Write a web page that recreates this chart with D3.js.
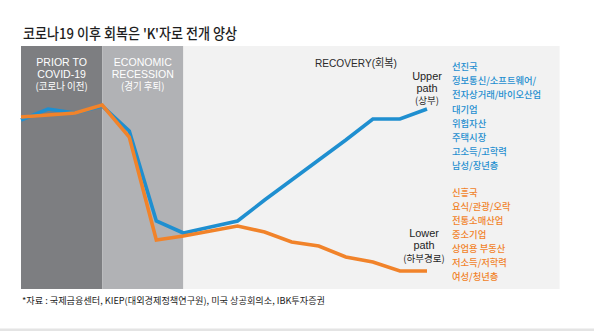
<!DOCTYPE html>
<html><head><meta charset="utf-8">
<script src="https://cdn.jsdelivr.net/npm/d3@7"></script>
<style>
html,body{margin:0;padding:0;background:#fff;}
svg{display:block;}
</style></head>
<body>
<svg id="chart" width="594" height="331"></svg>
<script>
// ---- data ----
const title = "코로나19 이후 회복은 'K'자로 전개 양상";
const periods = d3.range(16); // time steps
const upperPath = [84.5, 90, 88, 91.5, 79, 34, 28, 31, 34, 44.5, 54.5, 64.5, 74.5, 85, 85, 90];
const lowerPath = [86, 87, 88, 92, 76, 24.5, 26.5, 29, 31.5, 28.5, 23.5, 21.5, 16, 13.5, 9, 9];
const phaseNames = [
  ["PRIOR TO", "COVID-19", "(코로나 이전)"],
  ["ECONOMIC", "RECESSION", "(경기 후퇴)"],
  ["RECOVERY(회복)"]
];
const phaseBounds = [0, 3, 6, 19.9];
const upperLabel = ["Upper", "path", "(상부)"];
const lowerLabel = ["Lower", "path", "(하부경로)"];
const upperItems = ["선진국", "정보통신/소프트웨어/", "전자상거래/바이오산업", "대기업", "위험자산", "주택시장", "고소득/고학력", "남성/장년층"];
const lowerItems = ["신흥국", "요식/관광/오락", "전통소매산업", "중소기업", "상업용 부동산", "저소득/저학력", "여성/청년층"];
const source = "*자료 : 국제금융센터, KIEP(대외경제정책연구원), 미국 상공회의소, IBK투자증권";

// ---- layout ----
const svg = d3.select("#chart");
const KR = "'Noto Sans CJK KR', 'Liberation Sans', sans-serif";
const LAT = "'Liberation Sans', 'Noto Sans CJK KR', sans-serif";
const BLUE = "#1f8fd0", ORANGE = "#f1832a";
const plotTop = 46, plotBottom = 289;

const x = d3.scaleLinear().domain([0, 15]).range([21, 427]);
const y = d3.scaleLinear().domain([0, 100]).range([289, 89]);

function txt(xp, yp, s, o) {
  o = o || {};
  const t = svg.append("text")
    .attr("transform", `translate(${xp},${yp}) scale(${o.sx || 1},1)`)
    .attr("text-anchor", o.anchor || "start")
    .attr("dominant-baseline", "central")
    .attr("font-family", o.font || KR)
    .attr("font-size", o.size || 11)
    .attr("font-weight", o.weight || 400)
    .attr("fill", o.color || "#222")
    .text(s);
  if (o.len) t.attr("textLength", o.len).attr("lengthAdjust", "spacingAndGlyphs");
  return t;
}

// title
txt(23, 32.5, title, {size: 14.5, weight: 500, color: "#1e1e1e", len: 214});

// phase panels
const panelColors = ["#7d7e81", "#b1b2b5", "#f2f2f2"];
svg.selectAll("rect.phase").data(d3.range(3)).join("rect")
  .attr("class", "phase")
  .attr("x", i => x(phaseBounds[i]))
  .attr("y", plotTop)
  .attr("width", i => x(phaseBounds[i + 1]) - x(phaseBounds[i]))
  .attr("height", plotBottom - plotTop)
  .attr("fill", i => panelColors[i]);

// phase labels
const lineY = [62, 73.5, 85.5];
[0, 1].forEach(p => {
  const cx = (x(phaseBounds[p]) + x(phaseBounds[p + 1])) / 2;
  phaseNames[p].forEach((s, j) => {
    const isKr = j === 2;
    txt(cx, lineY[j], s, {anchor: "middle", size: isKr ? 10 : 11, color: "#fff",
      font: isKr ? KR : LAT, sx: isKr ? 0.95 : 0.96, weight: isKr ? 400 : 500});
  });
});
txt(315, 63, phaseNames[2][0], {size: 11, color: "#2a2a2a", font: LAT, len: 82});

// lines
const line = d3.line().x((d, i) => x(periods[i])).y(d => y(d)).curve(d3.curveLinear);
svg.append("path").datum(upperPath).attr("d", line)
  .attr("fill", "none").attr("stroke", BLUE).attr("stroke-width", 3.6);
svg.append("path").datum(lowerPath).attr("d", line)
  .attr("fill", "none").attr("stroke", ORANGE).attr("stroke-width", 3.6);

// path labels
const upY = [75.5, 87.5, 100];
upperLabel.forEach((s, j) => txt(427, upY[j], s, {anchor: "middle", size: j === 2 ? 9.5 : 11.5,
  color: "#1e1e1e", font: j === 2 ? KR : LAT, sx: j === 2 ? 1 : 0.95}));
const loY = [233, 245, 257.5];
lowerLabel.forEach((s, j) => txt(424, loY[j], s, {anchor: "middle", size: j === 2 ? 9.5 : 11.5,
  color: "#1e1e1e", font: j === 2 ? KR : LAT, sx: j === 2 ? 1 : 0.95}));

// category lists
upperItems.forEach((s, j) => txt(452, 66 + j * 14.2, s, {size: 9.6, weight: 500, color: BLUE, sx: 0.97}));
lowerItems.forEach((s, j) => txt(452, 191.5 + j * 14, s, {size: 9.6, weight: 500, color: ORANGE, sx: 0.97}));

// source
txt(22, 300, source, {size: 9, color: "#222", len: 303});

// bottom band
svg.append("rect").attr("x", 0).attr("y", 328.5).attr("width", 594).attr("height", 3).attr("fill", "#e4e4e4");
</script>
</body></html>
